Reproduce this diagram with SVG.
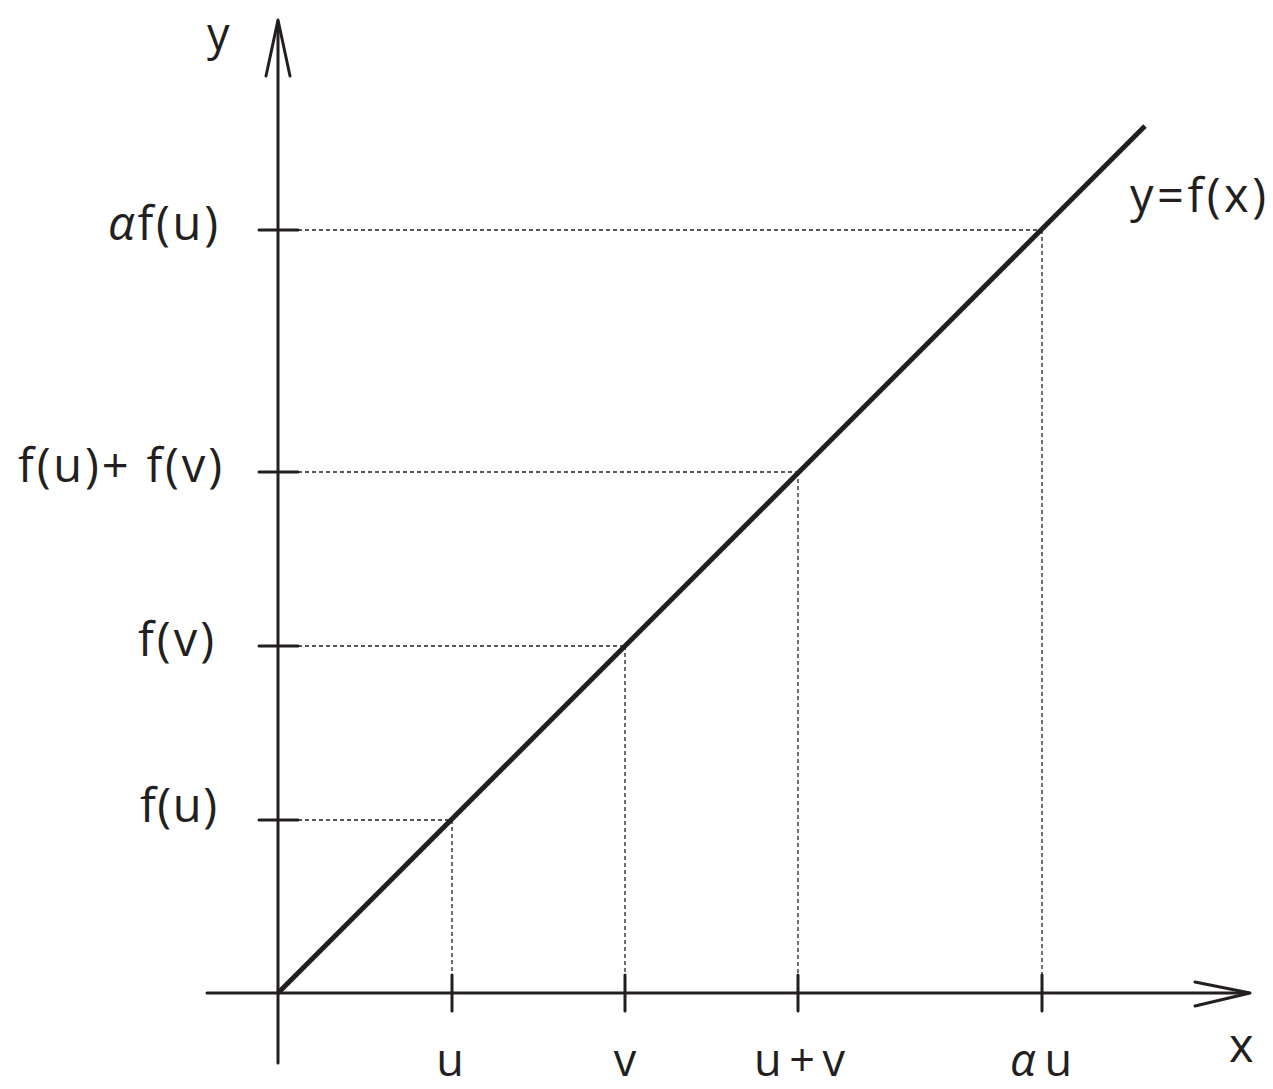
<svg xmlns="http://www.w3.org/2000/svg" width="1273" height="1089" viewBox="0 0 1273 1089">
<style>
.ax{stroke:#231f20;stroke-width:3;fill:none;stroke-linecap:round;stroke-linejoin:round}
.fn{stroke:#231f20;stroke-width:5;fill:none;stroke-linecap:butt}
.tk{stroke:#231f20;stroke-width:3;fill:none;stroke-linecap:round}
.ds{stroke:#231f20;stroke-width:1.3;fill:none;stroke-dasharray:4 3}
text{font-family:"Open Sans","Noto Sans","Liberation Sans",sans-serif;font-size:47px;fill:#231f20}
.al{font-style:italic}
.bt{font-size:45px}
</style>
<rect width="1273" height="1089" fill="#fff"/>
<g id="connectors">
<line class="ds" x1="298" y1="230" x2="1042" y2="230"/>
<line class="ds" x1="1042" y1="230" x2="1042" y2="975"/>
<line class="ds" x1="298" y1="472" x2="798" y2="472"/>
<line class="ds" x1="798" y1="472" x2="798" y2="975"/>
<line class="ds" x1="298" y1="646" x2="625" y2="646"/>
<line class="ds" x1="625" y1="646" x2="625" y2="975"/>
<line class="ds" x1="298" y1="820" x2="452" y2="820"/>
<line class="ds" x1="452" y1="820" x2="452" y2="975"/>
</g>
<g id="y-axis">
<line class="ax" x1="278" y1="1063" x2="278" y2="22"/>
<polyline class="ax" points="266,76 278,20 290,76"/>
<text x="207" y="50" class="bt">y</text>
</g>
<g id="x-axis">
<line class="ax" x1="207" y1="993" x2="1248" y2="993"/>
<polyline class="ax" points="1195,982 1250,993 1195,1006"/>
<text x="1229" y="1062">x</text>
</g>
<g id="function">
<line class="fn" x1="278" y1="993" x2="1145" y2="126"/>
<text x="1130" y="212" textLength="136" lengthAdjust="spacing">y=f(x)</text>
</g>
<g id="y-ticks">
<line class="tk" x1="259" y1="230" x2="298" y2="230"/>
<line class="tk" x1="259" y1="472" x2="298" y2="472"/>
<line class="tk" x1="259" y1="646" x2="298" y2="646"/>
<line class="tk" x1="259" y1="820" x2="298" y2="820"/>
<text x="108" y="240" textLength="110" lengthAdjust="spacing"><tspan class="al">α</tspan>f(u)</text>
<text x="18" y="482" textLength="204" lengthAdjust="spacing">f(u)+ f(v)</text>
<text x="138" y="656" textLength="76" lengthAdjust="spacing">f(v)</text>
<text x="140" y="822" textLength="77" lengthAdjust="spacing">f(u)</text>
</g>
<g id="x-ticks">
<line class="tk" x1="452" y1="975" x2="452" y2="1011"/>
<line class="tk" x1="625" y1="975" x2="625" y2="1011"/>
<line class="tk" x1="798" y1="975" x2="798" y2="1011"/>
<line class="tk" x1="1042" y1="975" x2="1042" y2="1011"/>
<text class="bt" x="450" y="1076" text-anchor="middle">u</text>
<text class="bt" x="625" y="1076" text-anchor="middle">v</text>
<text class="bt" x="754" y="1076" textLength="91" lengthAdjust="spacing">u+v</text>
<text class="bt" x="1010" y="1076" textLength="62" lengthAdjust="spacing"><tspan class="al">α</tspan>u</text>
</g>
</svg>
